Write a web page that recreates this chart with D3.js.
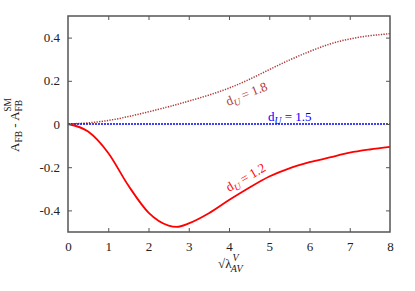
<!DOCTYPE html>
<html><head><meta charset="utf-8">
<script src="https://cdn.jsdelivr.net/npm/d3@7"></script>
<style>body{margin:0;background:#fff}svg{display:block}</style>
</head><body>
<svg id="c" width="415" height="291"></svg>
<script>
const xTicks = [0,1,2,3,4,5,6,7,8];
const yTicks = [-0.4,-0.2,0,0.2,0.4];
const yTickLabels = ["-0.4","-0.2","0","0.2","0.4"];
const xs = [0,0.5,1,1.5,2,2.5,2.7,3,3.5,4,4.5,5,5.5,6,6.5,7,7.5,8];
const red12 = [0,-0.035,-0.134,-0.285,-0.41,-0.47,-0.476,-0.46,-0.413,-0.352,-0.295,-0.243,-0.205,-0.177,-0.155,-0.133,-0.118,-0.106];
const brown18 = [0,0.004,0.015,0.034,0.056,0.08,0.09,0.106,0.133,0.165,0.205,0.252,0.297,0.336,0.372,0.395,0.41,0.418];
const blue15 = xs.map(()=>0);

const FONT = "'Liberation Serif', 'Times New Roman', Times, serif";
const svg = d3.select("#c");
const L=68,R=390,T=16,B=232;
const x = d3.scaleLinear().domain([0,8]).range([L,R]);
const y = d3.scaleLinear().domain([-0.5,0.5]).range([B,T]);
const axisCol="#555";

// curves
const line = d3.line().x((d,i)=>x(xs[i])).y(d=>y(d)).curve(d3.curveBasis);
const lineM = d3.line().x((d,i)=>x(xs[i])).y(d=>y(d)).curve(d3.curveMonotoneX);
svg.append("path").attr("d",line(brown18)).attr("fill","none").attr("stroke","#b03a3a").attr("stroke-width",1.5).attr("stroke-dasharray","1.3,1.3");
svg.append("path").attr("d",lineM(blue15)).attr("fill","none").attr("stroke","#0000ff").attr("stroke-width",1.5).attr("stroke-dasharray","2,1");
svg.append("path").attr("d",lineM(red12)).attr("fill","none").attr("stroke","#ff0000").attr("stroke-width",1.8);

// frame
svg.append("rect").attr("x",L).attr("y",T).attr("width",R-L).attr("height",B-T).attr("fill","none").attr("stroke",axisCol).attr("stroke-width",1.5);

// axes
const gx = svg.append("g").attr("transform",`translate(0,${B})`).call(d3.axisBottom(x).tickValues(xTicks).tickSize(-4).tickPadding(10).tickFormat(d3.format("d")));
const gxt = svg.append("g").attr("transform",`translate(0,${T})`).call(d3.axisTop(x).tickValues(xTicks).tickSize(-4).tickFormat(""));
const gy = svg.append("g").attr("transform",`translate(${L},0)`).call(d3.axisLeft(y).tickValues(yTicks).tickSize(-4).tickPadding(8).tickFormat((d,i)=>yTickLabels[i]));
const gyr = svg.append("g").attr("transform",`translate(${R},0)`).call(d3.axisRight(y).tickValues(yTicks).tickSize(-4).tickFormat(""));
[gx,gxt,gy,gyr].forEach(g=>{
  g.attr("font-family",null);
  g.select(".domain").remove();
  g.selectAll(".tick line").attr("stroke",axisCol).attr("stroke-width",1);
  g.selectAll("text").attr("font-size",null).style("font-size","13px").attr("fill","#222").style("font-family",FONT);
});
gx.selectAll(".tick").filter(d=>d===0||d===8).select("line").remove();
gxt.selectAll(".tick").filter(d=>d===0||d===8).select("line").remove();

// labels
function dlabel(txt, color, tx, ty, rot){
  const t = svg.append("text").attr("transform",`translate(${tx},${ty}) rotate(${rot})`).attr("fill",color).style("font-family",FONT).style("font-size","13px");
  t.append("tspan").text("d");
  t.append("tspan").style("font-style","italic").style("font-size","9.5px").attr("dy",3).text("U");
  t.append("tspan").attr("dy",-3).text(" = "+txt);
}
dlabel("1.8","#b03a3a",228,106,-22);
dlabel("1.5","#0000ff",268,121,0);
dlabel("1.2","#ff0000",229,192,-30);

// y label
const yl = svg.append("text").attr("transform","translate(19,125) rotate(-90)").attr("text-anchor","middle").attr("fill","#222").style("font-family",FONT).style("font-size","13px");
yl.append("tspan").text("A");
yl.append("tspan").style("font-size","9.5px").attr("dy",3).text("FB");
yl.append("tspan").attr("dy",-3).text(" - A");
yl.append("tspan").style("font-size","9.5px").attr("dy",3).text("FB");
yl.append("tspan").style("font-size","9.5px").attr("dx",-12).attr("dy",-11).text("SM");

// x label
const xl = svg.append("text").attr("x",218).attr("y",268).attr("fill","#222").style("font-family",FONT).style("font-size","13px");
xl.append("tspan").text("√λ");
xl.append("tspan").style("font-style","italic").style("font-size","10px").attr("dx",1).attr("dy",-7).text("V");
xl.append("tspan").style("font-style","italic").style("font-size","10px").attr("dx",-7).attr("dy",11).text("AV");
</script>
</body></html>
